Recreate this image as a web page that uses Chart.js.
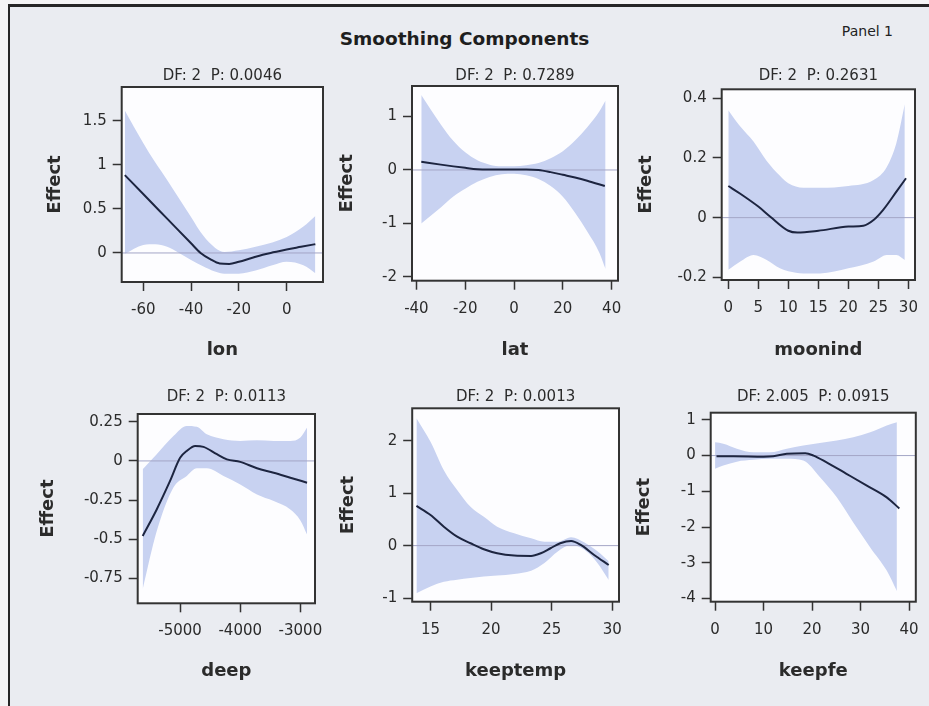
<!DOCTYPE html>
<html>
<head>
<meta charset="utf-8">
<title>Smoothing Components</title>
<script src="https://cdn.jsdelivr.net/npm/chart.js@4.4.1/dist/chart.umd.min.js"></script>
<style>
  body { margin: 0; width: 929px; height: 706px; overflow: hidden; background: #f4f4f5; font-family: "DejaVu Sans", sans-serif; }
  #frame { position: absolute; left: 8px; top: 4px; width: 921px; height: 702px; box-sizing: border-box;
           border-top: 3px solid #262626; border-left: 2px solid #262626; background: #eaecf1; }
  #main-title { position: absolute; left: 0; width: 929px; top: 28px; text-align: center;
                font: bold 18.5px "DejaVu Sans", sans-serif; color: #1e1e1e; }
  #panel-label { position: absolute; right: 36px; top: 23px; font: 14px "DejaVu Sans", sans-serif; color: #222; }
  canvas { position: absolute; }
</style>
</head>
<body>
<div id="frame"></div>
<div id="main-title">Smoothing Components</div>
<div id="panel-label">Panel 1</div>

<script>
// ---- data ----

// lon
const lonFitX = [-67.7, -60, -50, -40, -36, -32, -28, -24, -20, -15, -10, -5, 0, 6, 12];
const lonFit = [0.885, 0.67, 0.39, 0.11, 0.0, -0.07, -0.12, -0.125, -0.1, -0.06, -0.02, 0.01, 0.04, 0.07, 0.1];
const lonBandX = [-67.7, -60, -55, -50, -45, -40, -35, -30, -26, -20, -13, -6, 0, 7, 12];
const lonUpper = [1.62, 1.25, 1.03, 0.83, 0.62, 0.41, 0.2, 0.06, 0.01, 0.03, 0.07, 0.12, 0.18, 0.3, 0.42];
const lonLower = [-0.01, 0.09, 0.1, 0.07, 0.0, -0.08, -0.15, -0.21, -0.235, -0.235, -0.2, -0.14, -0.1, -0.14, -0.23];
const lonXTicks = [-60, -40, -20, 0];
const lonYTicks = [0, 0.5, 1, 1.5];

// lat
const latFitX = [-38, -30, -20, -15, -10, -5, 0, 5, 10, 15, 20, 25, 30, 37.2];
const latFit = [0.155, 0.1, 0.04, 0.015, 0.01, 0.01, 0.01, 0.01, 0.0, -0.04, -0.09, -0.14, -0.2, -0.3];
const latBandX = [-38, -30, -25, -20, -15, -10, -5, 0, 5, 10, 15, 20, 25, 30, 35, 37.5];
const latUpper = [1.4, 0.85, 0.55, 0.33, 0.18, 0.1, 0.07, 0.07, 0.09, 0.13, 0.22, 0.35, 0.55, 0.8, 1.1, 1.3];
const latLower = [-1.0, -0.7, -0.5, -0.35, -0.22, -0.13, -0.08, -0.07, -0.1, -0.17, -0.3, -0.5, -0.8, -1.15, -1.55, -1.85];
const latXTicks = [-40, -20, 0, 20, 40];
const latYTicks = [-2, -1, 0, 1];

// moonind
const moonFitX = [0, 2, 5, 7, 10, 11.5, 15, 20, 22.5, 24.2, 25.8, 28, 29.6];
const moonFit = [0.106, 0.08, 0.037, 0.003, -0.044, -0.05, -0.044, -0.03, -0.027, -0.008, 0.026, 0.087, 0.132];
const moonBandX = [0, 2, 4.2, 6.4, 8.6, 10, 12.5, 15.3, 20, 24.2, 26.4, 28, 29.4];
const moonUpper = [0.36, 0.305, 0.255, 0.19, 0.14, 0.115, 0.1, 0.1, 0.106, 0.126, 0.17, 0.25, 0.38];
const moonLower = [-0.175, -0.147, -0.125, -0.142, -0.17, -0.18, -0.187, -0.187, -0.17, -0.147, -0.125, -0.125, -0.142];
const moonXTicks = [0, 5, 10, 15, 20, 25, 30];
const moonYTicks = [-0.2, 0, 0.2, 0.4];

// deep
const deepFitX = [-5622, -5389, -5167, -5000, -4889, -4750, -4611, -4389, -4222, -4000, -3722, -3444, -3167, -2889];
const deepFit = [-0.48, -0.31, -0.128, 0.02, 0.064, 0.096, 0.09, 0.043, 0.01, -0.006, -0.047, -0.075, -0.107, -0.139];
const deepBandX = [-5622, -5389, -5111, -4889, -4722, -4556, -4278, -4000, -3722, -3444, -3167, -3000, -2889];
const deepUpper = [-0.053, 0.043, 0.16, 0.224, 0.218, 0.17, 0.139, 0.128, 0.132, 0.128, 0.128, 0.15, 0.214];
const deepLower = [-0.82, -0.45, -0.17, -0.096, -0.047, -0.047, -0.096, -0.15, -0.214, -0.256, -0.31, -0.38, -0.47];
const deepXTicks = [-5000, -4000, -3000];
const deepYTicks = [-0.75, -0.5, -0.25, 0, 0.25];

// keeptemp
const tempFitX = [13.84, 15, 16.1, 17.2, 18.3, 19.4, 20.5, 21.9, 23.3, 24.1, 24.9, 25.7, 26.6, 27.4, 28.5, 29.7];
const tempFit = [0.757, 0.585, 0.36, 0.17, 0.045, -0.07, -0.146, -0.19, -0.197, -0.146, -0.05, 0.045, 0.09, 0.013, -0.178, -0.37];
const tempBandX = [13.84, 15, 16.1, 17.2, 18.3, 19.4, 20.5, 21.9, 23.3, 24.4, 25.5, 26.6, 27.7, 28.8, 29.7];
const tempUpper = [2.43, 1.98, 1.44, 1.06, 0.74, 0.55, 0.36, 0.235, 0.14, 0.076, 0.076, 0.16, 0.06, -0.114, -0.3];
const tempLower = [-0.91, -0.78, -0.69, -0.65, -0.62, -0.59, -0.57, -0.54, -0.48, -0.33, -0.11, 0.01, -0.08, -0.34, -0.655];
const tempXTicks = [15, 20, 25, 30];
const tempYTicks = [-1, 0, 1, 2];

// keepfe
const feFitX = [0.3, 3.8, 10, 12, 14.8, 18.6, 20.3, 23, 27.1, 31.3, 35.4, 38];
const feFit = [-0.02, -0.02, -0.03, -0.02, 0.05, 0.065, 0, -0.19, -0.51, -0.84, -1.17, -1.48];
const feBandX = [0, 1.7, 4.5, 7.9, 11.3, 14.8, 18.2, 21.6, 25.1, 28.5, 32, 35.4, 37.5];
const feUpper = [0.37, 0.33, 0.19, 0.09, 0.09, 0.19, 0.28, 0.355, 0.42, 0.51, 0.65, 0.84, 0.93];
const feLower = [-0.37, -0.28, -0.17, -0.12, -0.09, -0.09, -0.14, -0.6, -1.17, -1.87, -2.57, -3.22, -3.79];
const feXTicks = [0, 10, 20, 30, 40];
const feYTicks = [-4, -3, -2, -1, 0, 1];

// ---- panels: data refs, axis ranges and where the plot box sits ----
const panels = [
  { name: 'lon', sub: 'DF: 2  P: 0.0046', fitX: lonFitX, fit: lonFit, bandX: lonBandX, upper: lonUpper, lower: lonLower,
    xTicks: lonXTicks, yTicks: lonYTicks, xRange: [-69, 15.2], yRange: [-0.33, 1.886],
    box: [121.7, 87, 323, 282], yTitleX: 55, subY: 76, xTitleY: 350 },
  { name: 'lat', sub: 'DF: 2  P: 0.7289', fitX: latFitX, fit: latFit, bandX: latBandX, upper: latUpper, lower: latLower,
    xTicks: latXTicks, yTicks: latYTicks, xRange: [-41.8, 42.6], yRange: [-2.07, 1.57],
    box: [411.7, 86, 618, 280.7], yTitleX: 346.7, subY: 76, xTitleY: 350 },
  { name: 'moonind', sub: 'DF: 2  P: 0.2631', fitX: moonFitX, fit: moonFit, bandX: moonBandX, upper: moonUpper, lower: moonLower,
    xTicks: moonXTicks, yTicks: moonYTicks, xRange: [-1.1, 31.1], yRange: [-0.209, 0.43],
    box: [721.7, 89.3, 915, 280], yTitleX: 646, subY: 76, xTitleY: 350 },
  { name: 'deep', sub: 'DF: 2  P: 0.0113', fitX: deepFitX, fit: deepFit, bandX: deepBandX, upper: deepUpper, lower: deepLower,
    xTicks: deepXTicks, yTicks: deepYTicks, xRange: [-5705, -2757], yRange: [-0.91, 0.30],
    box: [137.7, 414, 315.3, 603.3], yTitleX: 48, subY: 397, xTitleY: 671 },
  { name: 'keeptemp', sub: 'DF: 2  P: 0.0013', fitX: tempFitX, fit: tempFit, bandX: tempBandX, upper: tempUpper, lower: tempLower,
    xTicks: tempXTicks, yTicks: tempYTicks, xRange: [13.49, 30.55], yRange: [-1.07, 2.62],
    box: [411.7, 408.3, 618.3, 601.7], yTitleX: 347.5, subY: 397, xTitleY: 671 },
  { name: 'keepfe', sub: 'DF: 2.005  P: 0.0915', fitX: feFitX, fit: feFit, bandX: feBandX, upper: feUpper, lower: feLower,
    xTicks: feXTicks, yTicks: feYTicks, xRange: [-0.9, 41.4], yRange: [-4.09, 1.2],
    box: [710.7, 412.7, 916, 601.7], yTitleX: 644, subY: 397, xTitleY: 671 }
];

const FONT = '"DejaVu Sans", sans-serif';
const BAND = '#c8d2f1';
const CURVE = '#1d2540';
const INK = '#2b2b2b';

// White plot area underneath, dark frame on top.
const framePlugin = {
  id: 'frame',
  beforeDraw(chart) {
    const a = chart.chartArea, ctx = chart.ctx;
    ctx.save();
    ctx.fillStyle = '#fdfdff';
    ctx.fillRect(a.left, a.top, a.width, a.height);
    ctx.restore();
  },
  afterDatasetsDraw(chart) {
    const a = chart.chartArea, ctx = chart.ctx;
    ctx.save();
    ctx.strokeStyle = '#333';
    ctx.lineWidth = 2;
    ctx.strokeRect(a.left, a.top, a.width, a.height);
    ctx.restore();
  }
};

const pts = (xs, ys) => xs.map((x, i) => ({ x: x, y: ys[i] }));

function makePanel(p) {
  const [bl, bt, br, bb] = p.box;
  const left = p.yTitleX - 14;
  const top = p.subY - 20;
  const rightPad = Math.min(25, 929 - br);
  const bottom = p.xTitleY + 15;
  const w = Math.round(br + rightPad - left);
  const h = Math.round(bottom - top);

  const canvas = document.createElement('canvas');
  canvas.width = w;
  canvas.height = h;
  canvas.style.left = left + 'px';
  canvas.style.top = top + 'px';
  canvas.style.width = w + 'px';
  canvas.style.height = h + 'px';
  document.body.appendChild(canvas);

  const yAxisWidth = bl - left;
  const xAxisHeight = (top + h) - bb;
  const titlePadTop = 11;
  const titlePadBottom = (bt - top) - 18 - titlePadTop;

  new Chart(canvas.getContext('2d'), {
    type: 'line',
    data: {
      datasets: [
        { data: pts(p.fitX, p.fit), borderColor: CURVE, borderWidth: 2, pointRadius: 0,
          tension: 0.4, cubicInterpolationMode: 'monotone', fill: false, order: 0 },
        { data: pts(p.xRange, [0, 0]), borderColor: '#a4a6c6', borderWidth: 1, pointRadius: 0, fill: false, order: 1 },
        { data: pts(p.bandX, p.lower), borderWidth: 0, borderColor: 'rgba(0,0,0,0)', pointRadius: 0,
          tension: 0.4, cubicInterpolationMode: 'monotone', fill: false, order: 2 },
        { data: pts(p.bandX, p.upper), borderWidth: 0, borderColor: 'rgba(0,0,0,0)', pointRadius: 0,
          tension: 0.4, cubicInterpolationMode: 'monotone', fill: '-1', backgroundColor: BAND, order: 3 }
      ]
    },
    options: {
      responsive: false,
      animation: false,
      devicePixelRatio: 1,
      layout: { padding: { left: 0, top: 0, right: rightPad, bottom: 0 } },
      plugins: {
        legend: { display: false },
        tooltip: { enabled: false },
        title: {
          display: true, text: p.sub, fullSize: false, color: INK,
          font: { family: FONT, size: 15, weight: 'normal', lineHeight: 1.2 },
          padding: { top: titlePadTop, bottom: titlePadBottom }
        }
      },
      scales: {
        x: {
          type: 'linear', bounds: 'data', min: p.xRange[0], max: p.xRange[1],
          afterBuildTicks: s => { s.ticks = p.xTicks.map(v => ({ value: v })); },
          afterFit: s => { s.height = xAxisHeight; },
          grid: { display: true, drawOnChartArea: false, drawTicks: true, tickLength: 9, tickWidth: 1.5, tickColor: '#333' },
          border: { display: false },
          ticks: { callback: v => String(v), padding: 10, autoSkip: false, maxRotation: 0, color: INK,
                   font: { family: FONT, size: 15 } },
          title: { display: true, text: p.name, color: INK, font: { family: FONT, size: 18, weight: 'bold' },
                   padding: { top: 0, bottom: 4.2 } }
        },
        y: {
          type: 'linear', bounds: 'data', min: p.yRange[0], max: p.yRange[1],
          afterBuildTicks: s => { s.ticks = p.yTicks.map(v => ({ value: v })); },
          afterFit: s => { s.width = yAxisWidth; },
          grid: { display: true, drawOnChartArea: false, drawTicks: true, tickLength: 9, tickWidth: 1.5, tickColor: '#333' },
          border: { display: false },
          ticks: { callback: v => String(v), padding: 6, autoSkip: false, color: INK,
                   font: { family: FONT, size: 15 } },
          title: { display: true, text: 'Effect', color: INK, font: { family: FONT, size: 18, weight: 'bold' },
                   padding: { top: 3.2, bottom: 0 } }
        }
      }
    },
    plugins: [framePlugin]
  });
}

panels.forEach(makePanel);
</script>
</body>
</html>
